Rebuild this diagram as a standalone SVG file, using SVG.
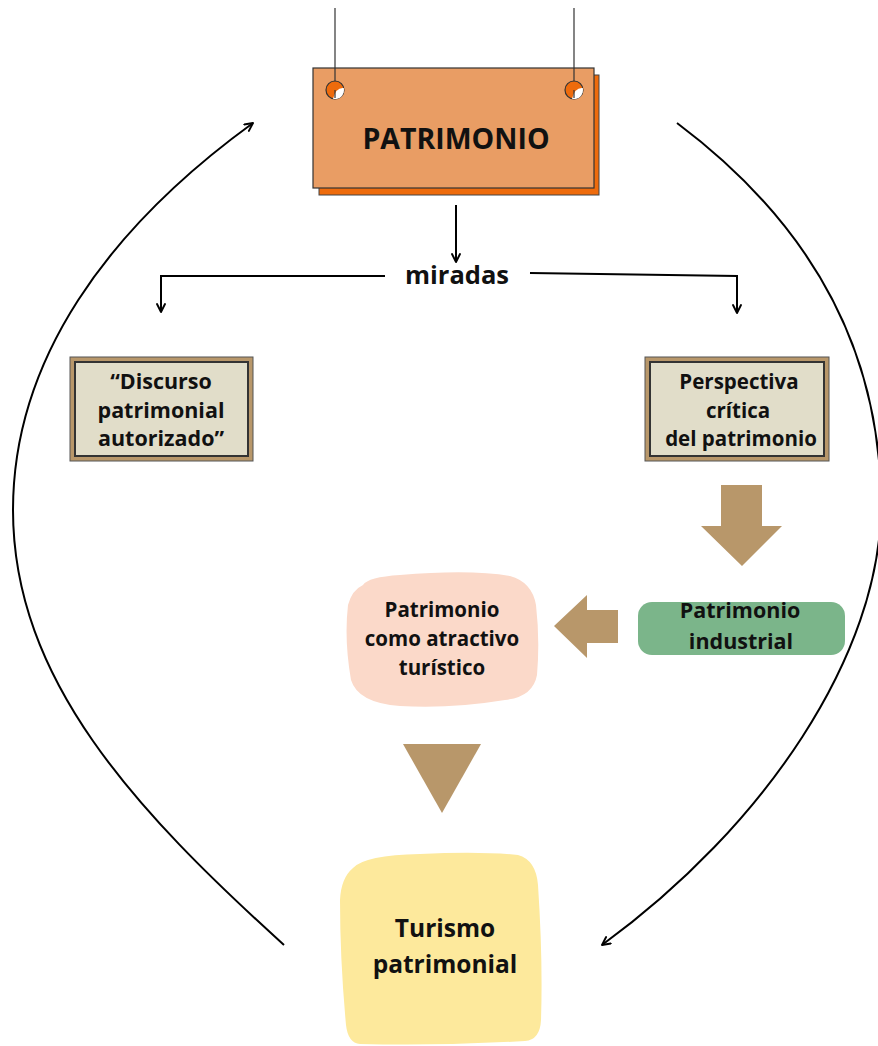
<svg xmlns="http://www.w3.org/2000/svg" width="878" height="1046" viewBox="0 0 878 1046">
<defs>
<style>
.t{font-family:"Open Sans","Noto Sans","Liberation Sans",sans-serif;font-weight:700;fill:#111;text-anchor:middle}
.ln{fill:none;stroke:#000;stroke-width:2}
.str{stroke:#333;stroke-width:1.2}
.tan{fill:#B8976A}
.frameO{fill:#B8976A;stroke:#555;stroke-width:1}
.frameI{fill:#E1DDC9;stroke:#333;stroke-width:2}
</style>
<marker id="ah" viewBox="0 0 10 10" refX="9" refY="5" markerWidth="10" markerHeight="10" markerUnits="userSpaceOnUse" orient="auto">
<path d="M1,1 L9,5 L1,9" fill="none" stroke="#000" stroke-width="1.9" stroke-linecap="round" stroke-linejoin="round"/>
</marker>
</defs>
<g id="connectors">
<path class="ln" d="M456,205 L456,262" marker-end="url(#ah)"/>
<path class="ln" d="M385,276 L161,276 L161,312" marker-end="url(#ah)"/>
<path class="ln" d="M530,273 L737,276 L737,313" marker-end="url(#ah)"/>
<path class="ln" d="M284,945 C136,811 13,680 13,510 C13,360 107,229 253,123" marker-end="url(#ah)"/>
<path class="ln" d="M677,123 C797,213 881,335 881,505 C881,655 764,827 602,945" marker-end="url(#ah)"/>
<path class="tan" d="M721,485 L762,485 L762,526 L782,526 L742,566 L701,526 L721,526 Z"/>
<path class="tan" d="M618,610 L618,643 L587,643 L587,658 L554,626 L587,595 L587,610 Z"/>
<path class="tan" d="M403,744 L481,744 L442,813 Z"/>
</g>
<g id="patrimonio">
<rect x="319" y="75" width="280" height="120" fill="#EE6B0C" stroke="#444" stroke-width="1"/>
<rect x="313" y="68" width="281" height="120" fill="#E99D64" stroke="#333" stroke-width="1.2"/>
<line class="str" x1="335" y1="8" x2="335" y2="90"/>
<line class="str" x1="574" y1="8" x2="574" y2="90"/>
<circle cx="335" cy="90" r="9" fill="#EE6B0C" stroke="#333" stroke-width="1.2"/>
<path d="M333,98.8 A9,9 0 0 0 343.8,88 Q336,87 333,98.8 Z" fill="#fff"/>
<line class="str" x1="335" y1="90" x2="335" y2="98"/>
<circle cx="574" cy="90" r="9" fill="#EE6B0C" stroke="#333" stroke-width="1.2"/>
<path d="M572,98.8 A9,9 0 0 0 582.8,88 Q575,87 572,98.8 Z" fill="#fff"/>
<line class="str" x1="574" y1="90" x2="574" y2="98"/>
<text class="t" x="456" y="149" font-size="28.5">PATRIMONIO</text>
</g>
<g id="miradas">
<text class="t" x="457" y="284" font-size="25.5">miradas</text>
</g>
<g id="discurso">
<rect class="frameO" x="70" y="357" width="183" height="104"/>
<rect class="frameI" x="75" y="362" width="173" height="94"/>
<text class="t" font-size="21.5"><tspan x="161" y="389">“Discurso</tspan><tspan x="161" y="418">patrimonial</tspan><tspan x="161" y="446">autorizado”</tspan></text>
</g>
<g id="perspectiva">
<rect class="frameO" x="645" y="357" width="184" height="104"/>
<rect class="frameI" x="650" y="362" width="174" height="94"/>
<text class="t" font-size="20.5"><tspan x="739" y="389">Perspectiva</tspan><tspan x="738" y="418">crítica</tspan><tspan x="741" y="446">del patrimonio</tspan></text>
</g>
<g id="industrial">
<rect x="638" y="602" width="207" height="53" rx="14" fill="#7BB58A"/>
<text class="t" font-size="21.5"><tspan x="740" y="618">Patrimonio</tspan><tspan x="741" y="649">industrial</tspan></text>
</g>
<g id="atractivo">
<path d="M363,585 Q368,577 400,575 Q470,569 510,576 Q532,582 536,605 Q540,640 537,675 Q533,697 505,700 Q450,709 400,706 Q358,703 351,680 Q344,640 348,605 Q352,590 363,585 Z" fill="#FBD9C9"/>
<text class="t" font-size="20.5"><tspan x="442" y="617">Patrimonio</tspan><tspan x="442" y="646">como atractivo</tspan><tspan x="442" y="675">turístico</tspan></text>
</g>
<g id="turismo">
<path d="M353,868 Q365,855 420,854 Q480,851 518,855 Q536,860 538,885 Q543,960 541,1020 Q540,1040 525,1041 Q440,1046 360,1044 Q348,1043 346,1025 Q340,960 340,900 Q341,878 353,868 Z" fill="#FDE99C"/>
<text class="t" font-size="24.5"><tspan x="445" y="937">Turismo</tspan><tspan x="445" y="973">patrimonial</tspan></text>
</g>
</svg>
